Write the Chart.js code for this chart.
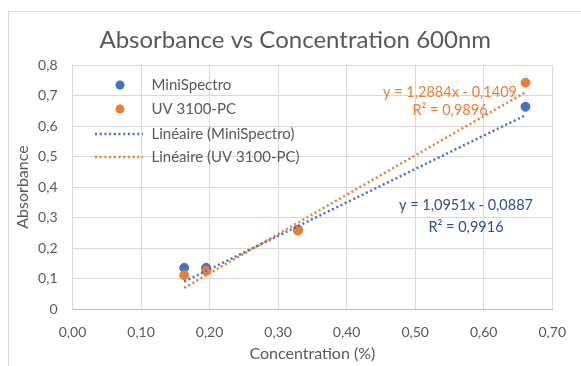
<!DOCTYPE html>
<html><head><meta charset="utf-8">
<script src="https://cdn.jsdelivr.net/npm/chart.js@4"></script>
<style>
html,body{margin:0;padding:0;background:#fff;}
#wrap{position:relative;width:581px;height:366px;overflow:hidden;}
#frame{position:absolute;left:8px;top:11px;width:620px;height:420px;border-left:1px solid #D6D6D6;border-top:1px solid #D6D6D6;}
canvas{position:absolute;left:0;top:0;}
</style></head><body>
<div id="wrap"><div id="frame"></div><canvas id="c" width="581" height="366"></canvas></div>
<script>
// ---- data ----
const concentration = [0.163, 0.195, 0.329, 0.661];
const miniSpectro   = [0.135, 0.135, 0.26, 0.663];
const uv3100        = [0.111, 0.125, 0.257, 0.742];
const seriesNames   = ['MiniSpectro', 'UV 3100-PC'];
const trendSlopes     = [1.0951, 1.2884];
const trendIntercepts = [-0.0887, -0.1409];
const trendR2         = [0.9916, 0.9896];
const xTickLabels = ['0,00','0,10','0,20','0,30','0,40','0,50','0,60','0,70'];
const yTickLabels = ['0','0,1','0,2','0,3','0,4','0,5','0,6','0,7','0,8'];

const BLUE = '#4472C4', ORANGE = '#ED7D31', GREY = '#595959';
const FONT = 'Lato';
const PAD_LEFT = 31;

const pts = ys => concentration.map((x, i) => ({x, y: ys[i]}));
const xMin = Math.min(...concentration), xMax = Math.max(...concentration);
const trend = k => [xMin, xMax].map(x => ({x, y: trendSlopes[k] * x + trendIntercepts[k]}));
const fmt = v => v.toFixed(4).replace('.', ',');
const eqText = k => 'y = ' + fmt(trendSlopes[k]) + 'x ' + (trendIntercepts[k] < 0 ? '- ' : '+ ') + fmt(Math.abs(trendIntercepts[k]));
const r2Text = k => 'R² = ' + fmt(trendR2[k]);

const overlay = {
  id: 'overlay',
  afterDatasetsDraw(chart) {
    const ctx = chart.ctx, a = chart.chartArea;
    ctx.save();
    ctx.font = '15px ' + FONT;
    ctx.textBaseline = 'middle';
    ctx.textAlign = 'left';
    const lx = a.left + 47.5, tx = a.left + 79;
    const rows = [a.top + 20, a.top + 44, a.top + 69, a.top + 92];
    const labels = [seriesNames[0], seriesNames[1], 'Linéaire (' + seriesNames[0] + ')', 'Linéaire (' + seriesNames[1] + ')'];
    const cols = [BLUE, ORANGE, BLUE, ORANGE];
    rows.forEach((y, i) => {
      if (i < 2) {
        ctx.fillStyle = cols[i];
        ctx.beginPath(); ctx.arc(lx, y, 4.5, 0, Math.PI * 2); ctx.fill();
      } else {
        ctx.strokeStyle = cols[i]; ctx.lineWidth = 2.5; ctx.setLineDash([2, 2.7]);
        ctx.beginPath(); ctx.moveTo(a.left + 22.5, y); ctx.lineTo(a.left + 70.5, y); ctx.stroke();
        ctx.setLineDash([]);
      }
      ctx.fillStyle = GREY;
      ctx.fillText(labels[i], tx, y);
    });
    ctx.font = '14.5px ' + FONT;
    ctx.textAlign = 'center';
    ctx.fillStyle = ORANGE;
    ctx.fillText(eqText(1), a.left + 377.5, a.top + 27);
    ctx.fillText(r2Text(1), a.left + 377.5, a.top + 45);
    ctx.fillStyle = '#2F4F8F';
    ctx.fillText(eqText(0), a.left + 393.5, a.top + 140);
    ctx.fillText(r2Text(0), a.left + 393.5, a.top + 162);
    ctx.restore();
  }
};

new Chart(document.getElementById('c'), {
  type: 'scatter',
  data: {
    datasets: [
      {label: 'Linéaire (' + seriesNames[0] + ')', type: 'line', data: trend(0), borderColor: BLUE, borderWidth: 2.5, borderDash: [2, 2.7], pointRadius: 0, fill: false, order: 0},
      {label: 'Linéaire (' + seriesNames[1] + ')', type: 'line', data: trend(1), borderColor: ORANGE, borderWidth: 2.5, borderDash: [2, 2.7], pointRadius: 0, fill: false, order: 0},
      {label: seriesNames[1], data: pts(uv3100), backgroundColor: ORANGE, borderColor: ORANGE, pointRadius: 4.5, order: 1},
      {label: seriesNames[0], data: pts(miniSpectro), backgroundColor: BLUE, borderColor: BLUE, pointRadius: 4.5, order: 2}
    ]
  },
  options: {
    responsive: false,
    animation: false,
    layout: {padding: {left: PAD_LEFT, right: 21.5, top: 0, bottom: 0}},
    plugins: {
      legend: {display: false},
      tooltip: {enabled: false},
      title: {display: true, text: 'Absorbance vs Concentration 600nm', color: GREY,
        font: {family: FONT, size: 24, weight: 'normal', lineHeight: 1.2}, padding: {top: 26.2, bottom: 10}}
    },
    scales: {
      x: {
        type: 'linear', min: 0, max: 0.7,
        ticks: {stepSize: 0.1, color: GREY, font: {family: FONT, size: 14}, padding: 15,
          callback: (v, i) => xTickLabels[i]},
        grid: {color: '#D9D9D9', drawTicks: false},
        border: {color: '#BFBFBF'},
        title: {display: true, text: 'Concentration (%)', color: GREY, font: {family: FONT, size: 16}, padding: {top: 0, bottom: 2.4}},
        afterFit: s => { s.height = 57; }
      },
      y: {
        type: 'linear', min: 0, max: 0.8,
        ticks: {stepSize: 0.1, color: GREY, font: {family: FONT, size: 14}, padding: 15,
          callback: (v, i) => yTickLabels[i]},
        grid: {color: '#D9D9D9', drawTicks: false},
        border: {color: '#D9D9D9'},
        title: {display: true, text: 'Absorbance', color: GREY, font: {family: FONT, size: 16}, padding: {top: 13.4 - PAD_LEFT, bottom: 0}},
        afterFit: s => { s.width = 72.5 - PAD_LEFT; }
      }
    }
  },
  plugins: [overlay]
});
</script>
</body></html>
